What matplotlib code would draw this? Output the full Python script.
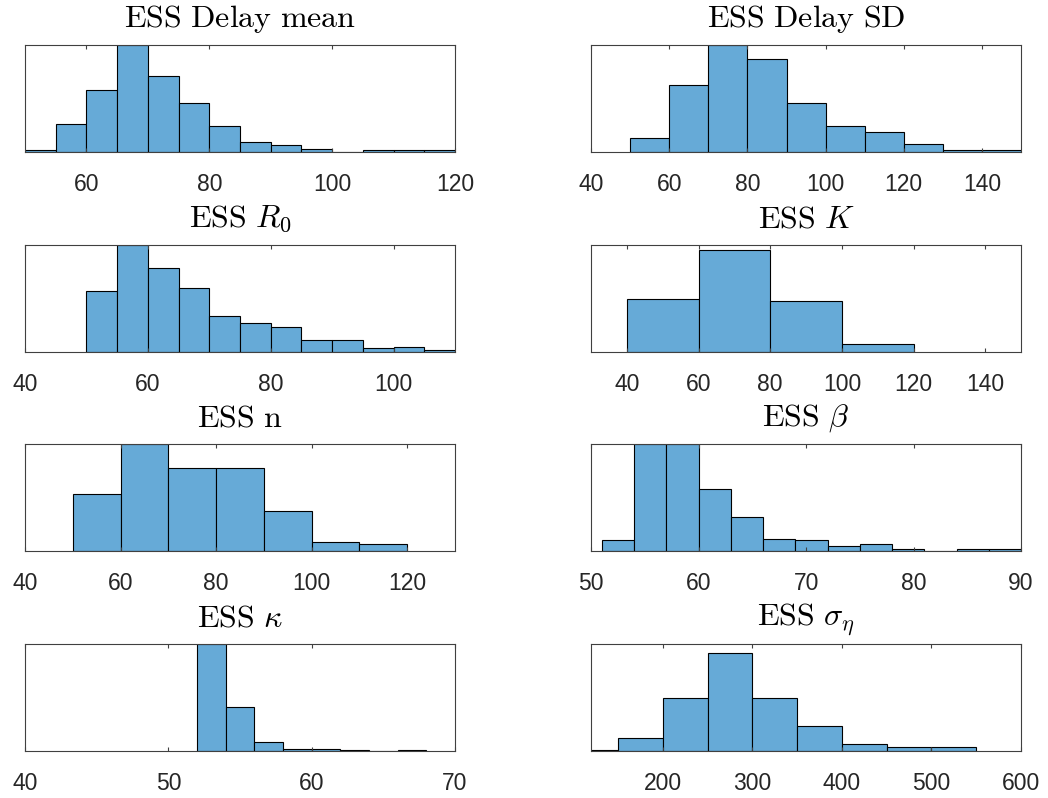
import numpy as np
import matplotlib
matplotlib.use("Agg")
import matplotlib.pyplot as plt

plt.rcParams["mathtext.fontset"] = "cm"
plt.rcParams["font.family"] = ["Liberation Sans", "DejaVu Sans"]

# ESS histograms, one panel per parameter (bin edges + counts)
titles = [
    r"$\mathrm{ESS\ Delay\ mean}$",
    r"$\mathrm{ESS\ Delay\ SD}$",
    r"$\mathrm{ESS}\ R_0$",
    r"$\mathrm{ESS}\ K$",
    r"$\mathrm{ESS\ n}$",
    r"$\mathrm{ESS}\ \beta$",
    r"$\mathrm{ESS}\ \kappa$",
    r"$\mathrm{ESS}\ \sigma_\eta$",
]

delay_mean_edges = np.arange(50, 125, 5)
delay_mean_counts = [1, 17, 38, 65, 46, 30, 16, 6, 4, 2, 0, 1, 1, 1]

delay_sd_edges = np.arange(50, 160, 10)
delay_sd_counts = [9, 44, 70, 61, 32, 17, 13, 5, 1, 1]

r0_edges = np.arange(50, 115, 5)
r0_counts = [34, 60, 47, 36, 20, 16, 14, 7, 7, 2, 3, 1]

k_edges = np.arange(40, 140, 20)
k_counts = [20, 38, 19, 3]

n_edges = np.arange(50, 130, 10)
n_counts = [24, 45, 35, 35, 17, 4, 3]

beta_edges = np.arange(51, 93, 3)
beta_counts = [6, 60, 60, 35, 19, 7, 6, 3, 4, 1, 0, 1, 1]

kappa_edges = np.arange(52, 70, 2)
kappa_counts = [100, 41, 8, 2, 2, 1, 0, 1]

sigma_edges = np.arange(100, 600, 50)
sigma_counts = [1, 10, 40, 73, 40, 19, 5, 3, 3]

edges_all = [delay_mean_edges, delay_sd_edges, r0_edges, k_edges,
             n_edges, beta_edges, kappa_edges, sigma_edges]
counts_all = [delay_mean_counts, delay_sd_counts, r0_counts, k_counts,
              n_counts, beta_counts, kappa_counts, sigma_counts]

x_limits = [(50, 120), (40, 150), (40, 110), (30, 150),
            (40, 130), (50, 90), (40, 70), (120, 600)]
x_ticks = [[60, 80, 100, 120], [40, 60, 80, 100, 120, 140],
           [40, 60, 80, 100], [40, 60, 80, 100, 120, 140],
           [40, 60, 80, 100, 120], [50, 60, 70, 80, 90],
           [40, 50, 60, 70], [200, 300, 400, 500, 600]]
y_tops = [65, 70, 60, 40, 45, 60, 100, 80]

bar_color = "#66AAD7"
axis_color = "#404040"

fig = plt.figure(figsize=(10.48, 7.98), dpi=100)

lefts = [0.0239, 0.564]
bottoms = [0.8095, 0.5589, 0.3095, 0.0589]
w, h = 0.4103, 0.134

for i in range(8):
    row, col = divmod(i, 2)
    ax = fig.add_axes([lefts[col], bottoms[row], w, h])
    edges = edges_all[i]
    counts = counts_all[i]

    ax.hist(edges[:-1], bins=edges, weights=counts,
            color=bar_color, edgecolor="black", linewidth=0.8)

    ax.set_xlim(*x_limits[i])
    ax.set_ylim(0, y_tops[i])
    ax.set_xticks(x_ticks[i])
    ax.set_yticks([])

    ax.tick_params(axis="x", direction="in", length=3, width=0.8,
                   colors=axis_color, labelcolor="#262626",
                   labelsize=16.5, pad=15, top=True)
    for sp in ax.spines.values():
        sp.set_color(axis_color)
        sp.set_linewidth(0.8)

    ax.set_title(titles[i], fontsize=23, pad=13)

plt.savefig("out.png", dpi=100)
